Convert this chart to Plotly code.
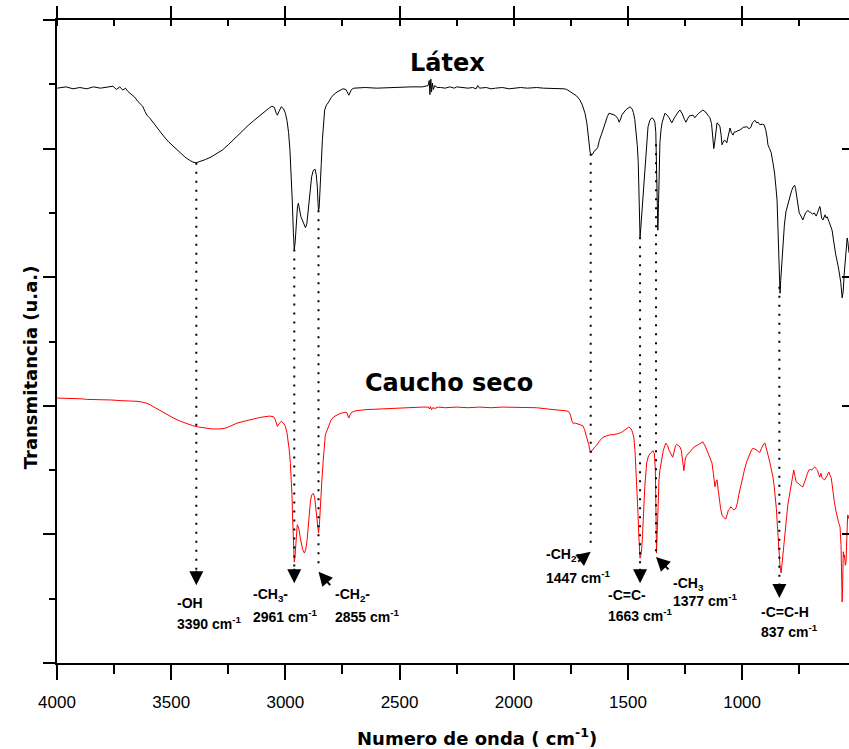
import numpy as np
import plotly.graph_objects as go

# ---------------- data ----------------
latex_wn = [3999, 3960, 3930, 3900, 3870, 3840, 3810, 3780, 3755, 3740, 3725, 3712, 3700, 3690, 3675, 3660,
            3645, 3637, 3625, 3615, 3606, 3595, 3580, 3565, 3549, 3530, 3510, 3490, 3475, 3455, 3440, 3420,
            3405, 3390, 3370, 3350, 3325, 3300, 3275, 3250, 3225, 3199, 3180, 3160, 3140, 3124, 3105, 3090,
            3075, 3059, 3048, 3040, 3035, 3028, 3018, 3008, 3000, 2993, 2986, 2980, 2975, 2970, 2965, 2961,
            2957, 2952, 2947, 2943, 2938, 2932, 2926, 2918, 2912, 2906, 2900, 2895, 2891, 2885, 2878, 2870,
            2865, 2860, 2857, 2855, 2852, 2848, 2843, 2838, 2833, 2828, 2820, 2813, 2800, 2791, 2774, 2760,
            2748, 2735, 2728, 2722, 2716, 2710, 2700, 2650, 2600, 2550, 2500, 2450, 2400, 2385, 2375, 2370,
            2367, 2363, 2360, 2356, 2352, 2346, 2335, 2320, 2300, 2280, 2260, 2250, 2230, 2200, 2180, 2165,
            2158, 2150, 2120, 2100, 2080, 2050, 2020, 2000, 1970, 1940, 1900, 1870, 1840, 1800, 1780, 1768,
            1755, 1740, 1725, 1711, 1700, 1688, 1680, 1672, 1666, 1661, 1655, 1648, 1640, 1632, 1625, 1614,
            1600, 1590, 1583, 1570, 1557, 1545, 1538, 1532, 1527, 1510, 1491, 1482, 1476, 1470, 1464, 1459,
            1455, 1452, 1449, 1447, 1444, 1440, 1436, 1432, 1426, 1420, 1412, 1404, 1395, 1388, 1382, 1378,
            1375, 1372, 1369, 1366, 1363, 1360, 1355, 1350, 1338, 1328, 1320, 1308, 1298, 1290, 1280, 1272,
            1262, 1252, 1246, 1238, 1230, 1215, 1207, 1198, 1190, 1172, 1160, 1150, 1141, 1134, 1128, 1124,
            1120, 1115, 1110, 1103, 1097, 1092, 1088, 1083, 1078, 1072, 1067, 1062, 1056, 1053, 1047, 1040,
            1034, 1027, 1018, 1009, 995, 979, 970, 962, 955, 944, 936, 930, 922, 912, 904, 897,
            891, 887, 880, 873, 865, 858, 852, 847, 843, 840, 837, 834, 831, 828, 823, 815,
            808, 800, 790, 783, 777, 770, 766, 762, 756, 750, 745, 740, 734, 728, 722, 712,
            705, 700, 692, 684, 676, 671, 665, 660, 657, 652, 646, 640, 637, 632, 628, 620,
            615, 610, 606, 600, 596, 593, 590, 587, 584, 580, 576, 571, 568, 565, 562, 559,
            557, 553, 550, 547, 545, 542, 540, 537, 535, 532]
latex_t = [89.4, 89.6, 89.3, 89.5, 89.3, 89.6, 89.4, 89.5, 89.7, 89.2, 89.6, 89.1, 89.4, 88.9, 88.5, 88.0,
           87.3, 87.0, 86.6, 85.8, 85.2, 84.8, 84.1, 83.3, 82.6, 81.8, 81.0, 80.3, 79.8, 79.2, 78.7, 78.2,
           77.9, 77.8, 78.0, 78.3, 78.7, 79.2, 79.8, 80.6, 81.5, 82.4, 83.0, 83.7, 84.3, 84.8, 85.3, 85.8,
           86.2, 86.6, 86.4, 85.5, 85.2, 85.8, 86.5, 86.2, 85.5, 84.4, 82.5, 79.8, 76.5, 72.0, 67.0, 64.3,
           65.5, 68.5, 71.0, 71.5, 70.5, 69.4, 68.9, 68.0, 67.7, 68.3, 70.4, 72.4, 74.0, 75.6, 76.6, 76.8,
           76.0, 74.0, 71.5, 70.4, 70.8, 73.0, 77.5, 81.3, 84.0, 86.0, 86.8, 87.1, 87.9, 88.3, 88.8, 89.1,
           89.3, 89.2, 88.6, 88.3, 88.8, 89.2, 89.4, 89.5, 89.4, 89.5, 89.5, 89.6, 89.6, 89.7, 89.8, 90.6,
           88.4, 90.8, 88.8, 90.2, 89.2, 89.8, 89.5, 89.5, 89.4, 89.6, 89.4, 89.6, 89.5, 89.4, 89.5, 89.3,
           89.8, 89.4, 89.5, 89.3, 89.4, 89.5, 89.3, 89.4, 89.5, 89.4, 89.5, 89.4, 89.4, 89.3, 89.3, 89.2,
           88.9, 88.6, 88.2, 87.6, 86.8, 85.5, 84.0, 81.5, 79.5, 79.0, 79.1, 79.6, 79.8, 80.2, 81.3, 82.4,
           84.1, 85.0, 85.5, 85.4, 85.2, 84.7, 84.1, 84.6, 85.2, 86.0, 86.5, 86.2, 85.6, 84.5, 82.5, 80.5,
           78.0, 74.5, 69.5, 66.2, 67.5, 69.7, 72.0, 74.0, 77.2, 79.8, 83.4, 84.4, 84.8, 84.6, 84.1, 82.5,
           77.0, 71.0, 67.3, 71.5, 77.0, 80.9, 83.0, 84.1, 85.5, 85.2, 84.8, 84.0, 84.7, 85.2, 85.7, 86.0,
           85.4, 84.5, 84.1, 84.7, 85.1, 85.2, 84.8, 85.2, 85.5, 86.0, 85.7, 85.2, 84.8, 83.9, 82.0, 80.0,
           81.0, 82.8, 84.0, 83.8, 83.4, 82.1, 80.6, 81.0, 81.3, 81.2, 80.9, 81.8, 83.0, 83.2, 82.5, 82.1,
           82.6, 82.6, 82.8, 82.9, 83.3, 83.4, 83.1, 83.3, 84.0, 84.4, 84.0, 84.1, 83.7, 83.8, 83.7, 83.0,
           81.8, 80.6, 80.0, 79.4, 77.8, 76.2, 74.0, 72.0, 67.5, 62.7, 58.5, 57.5, 59.5, 61.1, 64.7, 68.1,
           70.2, 71.4, 72.7, 73.5, 74.0, 74.3, 73.8, 72.7, 70.9, 70.0, 69.7, 69.3, 68.9, 69.5, 70.0, 70.4,
           70.1, 70.1, 69.8, 70.0, 69.5, 69.9, 70.4, 71.0, 70.6, 69.2, 68.9, 69.6, 69.7, 69.2, 69.4, 68.7,
           68.1, 67.8, 67.3, 65.8, 64.6, 63.8, 63.5, 63.0, 62.2, 61.8, 61.0, 60.0, 59.2, 58.0, 56.8, 57.4,
           58.0, 60.5, 61.9, 63.3, 63.8, 65.2, 66.1, 65.5, 64.8, 63.8]

caucho_wn = [3999, 3960, 3930, 3900, 3870, 3840, 3800, 3760, 3720, 3690, 3650, 3630, 3606, 3590, 3570, 3545,
             3518, 3490, 3460, 3430, 3405, 3380, 3350, 3320, 3287, 3265, 3250, 3230, 3212, 3180, 3150, 3110,
             3068, 3052, 3045, 3040, 3035, 3028, 3018, 3008, 3000, 2993, 2988, 2983, 2978, 2975, 2971, 2968,
             2964, 2961, 2958, 2955, 2951, 2948, 2944, 2940, 2935, 2930, 2924, 2917, 2911, 2905, 2900, 2895,
             2890, 2885, 2878, 2872, 2866, 2862, 2858, 2855, 2851, 2848, 2844, 2840, 2834, 2829, 2825, 2817,
             2808, 2800, 2788, 2774, 2760, 2739, 2730, 2726, 2722, 2717, 2710, 2700, 2695, 2650, 2600, 2550,
             2500, 2450, 2400, 2375, 2368, 2365, 2360, 2355, 2345, 2330, 2300, 2250, 2200, 2150, 2100, 2050,
             2000, 1950, 1900, 1850, 1800, 1780, 1768, 1760, 1752, 1745, 1741, 1730, 1720, 1710, 1697, 1690,
             1684, 1678, 1672, 1666, 1663, 1658, 1652, 1645, 1636, 1625, 1610, 1595, 1579, 1565, 1550, 1540,
             1527, 1510, 1496, 1486, 1480, 1474, 1469, 1465, 1460, 1456, 1452, 1449, 1447, 1444, 1440, 1436,
             1432, 1426, 1418, 1410, 1400, 1390, 1384, 1380, 1377, 1375, 1372, 1368, 1364, 1360, 1352, 1345,
             1334, 1326, 1320, 1312, 1304, 1298, 1292, 1286, 1278, 1272, 1266, 1262, 1258, 1255, 1252, 1248,
             1242, 1225, 1210, 1190, 1172, 1160, 1150, 1140, 1132, 1126, 1119, 1114, 1110, 1105, 1100, 1094,
             1088, 1080, 1071, 1066, 1060, 1054, 1049, 1042, 1035, 1027, 1020, 1015, 1008, 1000, 990, 980,
             970, 965, 958, 952, 944, 935, 928, 922, 915, 910, 905, 900, 895, 890, 886, 882,
             875, 870, 865, 860, 855, 850, 847, 843, 838, 834, 829, 825, 820, 816, 812, 806,
             800, 795, 791, 786, 780, 777, 774, 768, 764, 760, 752, 745, 740, 734, 727, 720,
             714, 708, 700, 695, 688, 682, 676, 670, 665, 660, 655, 650, 644, 638, 632, 628,
             624, 620, 615, 610, 606, 602, 596, 590, 585, 581, 578, 574, 571, 569, 567, 564,
             562, 560, 559, 557, 554, 552, 550, 548, 545, 543, 542, 540, 538, 536, 534, 532]
caucho_t = [41.2, 41.2, 41.1, 41.1, 41.0, 41.0, 40.9, 40.9, 40.8, 40.8, 40.7, 40.6, 40.4, 40.1, 39.7, 39.2,
            38.6, 38.1, 37.6, 37.2, 36.9, 36.7, 36.5, 36.4, 36.4, 36.5, 36.7, 37.0, 37.3, 37.6, 37.9, 38.2,
            38.4, 38.3, 37.9, 37.1, 36.8, 37.2, 37.6, 37.3, 36.8, 35.8, 34.7, 33.1, 31.0, 29.5, 26.0, 22.2,
            18.0, 15.7, 16.5, 18.4, 20.8, 21.5, 21.2, 20.7, 19.5, 18.4, 17.6, 17.1, 17.6, 19.1, 21.5, 23.8,
            25.2, 26.1, 26.4, 25.8, 24.0, 22.2, 20.8, 20.2, 21.5, 23.0, 26.0, 28.5, 31.6, 34.0, 35.5, 36.2,
            37.1, 37.8, 38.3, 38.6, 38.8, 39.0, 38.9, 38.4, 38.1, 38.6, 39.0, 39.1, 39.2, 39.4, 39.5, 39.6,
            39.7, 39.7, 39.8, 39.8, 39.5, 39.9, 39.4, 39.7, 39.6, 39.8, 39.7, 39.8, 39.7, 39.8, 39.7, 39.8,
            39.8, 39.7, 39.7, 39.5, 39.3, 39.3, 39.2, 39.1, 38.6, 37.6, 37.3, 37.3, 37.2, 37.1, 36.9, 36.3,
            35.6, 34.8, 34.0, 33.0, 32.7, 33.0, 33.3, 33.6, 33.9, 34.5, 35.1, 35.3, 35.5, 35.5, 35.6, 35.7,
            35.9, 36.3, 36.7, 36.4, 35.9, 35.0, 33.0, 30.0, 26.8, 23.3, 19.5, 17.0, 16.3, 16.6, 17.6, 20.0,
            23.8, 27.5, 31.1, 32.2, 32.7, 33.0, 32.5, 30.0, 23.0, 17.1, 20.0, 25.3, 28.5, 30.0, 32.0, 33.1,
            34.2, 33.8, 33.1, 32.4, 32.0, 32.8, 33.8, 34.0, 33.8, 33.6, 33.0, 31.9, 30.5, 29.9, 30.8, 31.9,
            32.3, 33.0, 33.6, 34.0, 34.4, 33.6, 32.8, 32.0, 31.1, 29.5, 27.4, 28.2, 28.5, 27.0, 25.3, 24.0,
            23.0, 22.6, 22.4, 23.2, 23.8, 24.0, 24.3, 24.0, 23.8, 24.1, 25.0, 26.1, 27.3, 28.5, 30.0, 31.3,
            32.3, 32.8, 33.2, 33.4, 33.3, 33.1, 32.8, 32.8, 33.4, 33.9, 34.1, 34.2, 33.6, 32.8, 32.2, 31.7,
            30.6, 29.8, 28.9, 27.6, 26.1, 24.0, 22.2, 19.5, 16.8, 15.0, 14.0, 15.5, 17.6, 19.3, 21.1, 23.0,
            24.6, 25.6, 26.4, 27.8, 29.0, 29.8, 30.0, 29.0, 28.2, 28.1, 27.8, 27.7, 27.5, 27.4, 28.0, 28.8,
            29.5, 30.0, 30.1, 30.0, 30.3, 30.5, 30.2, 30.0, 29.3, 28.9, 29.5, 28.8, 28.6, 28.5, 28.9, 29.1,
            29.5, 29.7, 29.2, 28.8, 27.8, 26.4, 25.0, 23.8, 22.7, 22.3, 21.9, 21.5, 21.1, 19.5, 18.4, 13.0,
            9.5, 12.0, 14.5, 17.3, 16.5, 16.8, 16.0, 15.2, 15.6, 18.0, 19.9, 22.2, 23.0, 23.0, 22.5, 22.7]

# absorption bands marked with dotted drop lines
band_wn = [3390, 2961, 2855, 1663, 1447, 1377, 837]
# label texts, in the order they appear from left to right
label_group = ["-OH", "-CH<sub>3</sub>-", "-CH<sub>2</sub>-", "-CH<sub>2</sub>-", "-C=C-", "-CH<sub>3</sub>", "-C=C-H"]
label_value = ["3390", "2961", "2855", "1447", "1663", "1377", "837"]

series_names = ["Látex", "Caucho seco"]
x_title = "Numero de onda ( cm<sup>-1</sup>)"
y_title = "Transmitancia (u.a.)"

# ---------------- layout helpers (positions) ----------------
drop_end = [14.5, 14.9, 15.2, 17.9, 14.9, 16.8, 12.6]      # where dotted lines stop
arrow_tip = [12.1, 12.4, 14.2, 17.3, 12.4, 16.5, 10.1]     # arrow tips
arrow_off = [(0, -16), (0, -16), (13, 15), (-14, 11), (0, -16), (14, 14), (0, -16)]
label_pos = [(3483, 9.3, 6.2), (3151, 10.6, 7.3), (2792, 10.6, 7.3), (1868, 16.8, 13.4),
             (1596, 10.6, 7.5), (1312, 12.3, 9.8), (926, 7.9, 5.0)]
name_pos = [(2292, 93.3), (2284, 43.5)]

XR = [4000, 532]
YR = [0, 100]

fig = go.Figure()
fig.add_trace(go.Scatter(x=latex_wn, y=latex_t, mode="lines", line=dict(color="black", width=1),
                         name=series_names[0], showlegend=False))
fig.add_trace(go.Scatter(x=caucho_wn, y=caucho_t, mode="lines", line=dict(color="#ff0000", width=1),
                         name=series_names[1], showlegend=False))

lat_wn_arr = np.array(latex_wn[::-1], dtype=float)
lat_t_arr = np.array(latex_t[::-1], dtype=float)
for wn, yend in zip(band_wn, drop_end):
    ytop = float(np.interp(wn, lat_wn_arr, lat_t_arr))
    fig.add_trace(go.Scatter(x=[wn, wn], y=[ytop, yend], mode="lines",
                             line=dict(color="black", width=2, dash="2px,7px"),
                             showlegend=False, hoverinfo="skip"))

# dummy traces to create the mirrored top / right axes
fig.add_trace(go.Scatter(x=[None], y=[None], xaxis="x2", yaxis="y", showlegend=False, hoverinfo="skip"))
fig.add_trace(go.Scatter(x=[None], y=[None], xaxis="x", yaxis="y2", showlegend=False, hoverinfo="skip"))

ann = []
for wn, tip, (ax, ay) in zip(band_wn, arrow_tip, arrow_off):
    ann.append(dict(x=wn, y=tip, xref="x", yref="y", text="", showarrow=True,
                    arrowhead=2, arrowsize=1.4, arrowwidth=2, arrowcolor="black", ax=ax, ay=ay))

lab_font = dict(family="Liberation Sans, Arial, sans-serif", size=14, color="black")
for g, v, (lx, y1, y2) in zip(label_group, label_value, label_pos):
    ann.append(dict(x=lx, y=y1, xref="x", yref="y", text="<b>" + g + "</b>", showarrow=False,
                    xanchor="left", yanchor="middle", font=lab_font))
    ann.append(dict(x=lx, y=y2, xref="x", yref="y", text="<b>" + v + " cm<sup>-1</sup></b>", showarrow=False,
                    xanchor="left", yanchor="middle", font=lab_font))

for nm, (nx, ny) in zip(series_names, name_pos):
    ann.append(dict(x=nx, y=ny, xref="x", yref="y", text="<b>" + nm + "</b>", showarrow=False,
                    xanchor="center", yanchor="middle",
                    font=dict(family="DejaVu Sans", size=24, color="black")))

ann.append(dict(x=0.530, y=-0.115, xref="paper", yref="paper", text="<b>" + x_title + "</b>",
                showarrow=False, xanchor="center", yanchor="middle",
                font=dict(family="DejaVu Sans", size=18, color="black")))
ann.append(dict(x=-0.034, y=0.46, xref="paper", yref="paper", text="<b>" + y_title + "</b>",
                showarrow=False, xanchor="center", yanchor="middle", textangle=-90,
                font=dict(family="DejaVu Sans", size=18, color="black")))

tick_font = dict(family="Liberation Sans, Arial, sans-serif", size=17, color="black")

fig.update_layout(
    width=849, height=749,
    margin=dict(l=57, r=0, t=20, b=86),
    paper_bgcolor="white", plot_bgcolor="white",
    annotations=ann,
    xaxis=dict(range=XR, showgrid=False, zeroline=False, showline=True, linecolor="black", linewidth=2,
               ticks="outside", ticklen=15, tickwidth=2, tickcolor="black", tick0=0, dtick=500,
               minor=dict(ticks="outside", ticklen=9, tickwidth=2, tickcolor="black", dtick=250, showgrid=False),
               tickfont=tick_font, ticklabelstandoff=8),
    xaxis2=dict(range=XR, overlaying="x", side="top", anchor="y", showgrid=False, zeroline=False,
                showline=True, linecolor="black", linewidth=2, showticklabels=False,
                ticks="outside", ticklen=12, tickwidth=2, tickcolor="black", tick0=0, dtick=500,
                minor=dict(ticks="inside", ticklen=6, tickwidth=2, tickcolor="black", dtick=250, showgrid=False)),
    yaxis=dict(range=YR, showgrid=False, zeroline=False, showline=True, linecolor="black", linewidth=2,
               showticklabels=False, ticks="outside", ticklen=12, tickwidth=2, tickcolor="black",
               tick0=0, dtick=20,
               minor=dict(ticks="outside", ticklen=6, tickwidth=2, tickcolor="black", dtick=10, showgrid=False)),
    yaxis2=dict(range=YR, overlaying="y", side="right", anchor="x", showgrid=False, zeroline=False,
                showline=False, showticklabels=False, ticks="inside", ticklen=7, tickwidth=2,
                tickcolor="black", tick0=0, dtick=20),
)

fig.write_html("out.html")
